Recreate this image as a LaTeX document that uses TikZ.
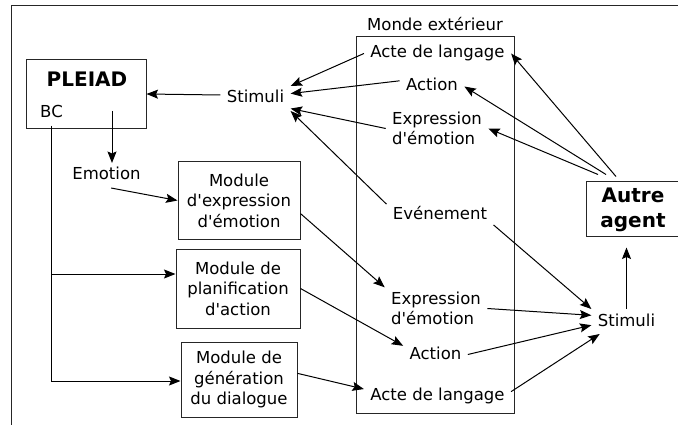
\documentclass[tikz,border=0pt]{standalone}
\usepackage{fontspec}
\setmainfont{DejaVu Sans}[Ligatures=TeXOff]
\usetikzlibrary{arrows.meta, positioning}
\newcommand{\bigbf}{\bfseries\fontsize{20}{25}\selectfont}

\begin{document}
\begin{tikzpicture}[x=1pt, y=-1pt, line width=1pt,
	font=\fontsize{16.5}{20.5}\selectfont,
	lbl/.style={inner xsep=6pt, inner ysep=4pt, text height=12.5pt, text depth=3.5pt},
	lbltwo/.style={inner xsep=6pt, inner ysep=4pt, align=left},
	modbox/.style={draw=black!85, align=center, inner sep=2pt},
	arr/.style={-{Stealth[length=11.5pt, width=9pt, inset=2pt]}}]
	\useasboundingbox (0,0) rectangle (678,425);
	\draw[black!85] (11,6) rectangle (700,450);

	\node[modbox, minimum width=120pt, minimum height=69pt] (pleiad) at (86,94.5) {};
	\node[anchor=base, font=\bigbf] (pleiadT) at (87,87) {PLEIAD};
	\node[lbl] (bc) at (51.5,113.5) {BC};
	\node[lbl] (stimA) at (255.5,98.5) {Stimuli};
	\node[lbl] (emotion) at (106.5,175.5) {Emotion};

	\node[modbox, minimum width=122pt, minimum height=77pt] (modExpr) at (239,200.5) {Module\\d'expression\\d'émotion};
	\node[modbox, minimum width=124pt, minimum height=79pt] (modPlan) at (238,288.5) {Module de\\planification\\d'action};
	\node[modbox, minimum width=116pt, minimum height=75pt] (modGen) at (239,379.5) {Module de\\génération\\du dialogue};

	\node[draw=black!85, minimum width=158pt, minimum height=376pt] (monde) at (435,225) {};
	\node[lbl, above=-2pt of monde] (mondeT) {Monde extérieur};
	\node[lbl] (acteA) at (437.5,53.5) {Acte de langage};
	\node[lbl] (actA) at (432,86.5) {Action};
	\node[lbltwo] (exprA) at (437,128.5) {Expression\\d'émotion};
	\node[lbl] (evt) at (440,215.5) {Evénement};
	\node[lbltwo] (exprB) at (436,308.5) {Expression\\d'émotion};
	\node[lbl] (actB) at (435.5,354.5) {Action};
	\node[lbl] (acteB) at (437.5,395.5) {Acte de langage};

	\node[lbl] (stimB) at (626.5,321.5) {Stimuli};
	\node[modbox, font=\bigbf, minimum width=94pt, minimum height=55pt, text depth=3pt] (autre) at (633,209.5) {Autre\\agent};

	\draw[arr] ([yshift=3.5pt]stimA.west) -- ([yshift=0.5pt]pleiad.east);
	\coordinate (emoTop) at ([shift={(26,16.5)}]pleiad.center);
	\draw[arr] (emoTop) -- (emoTop |- emotion.north);
	\draw[arr] (emotion.-70) -- (modExpr.west);
	\draw[arr] (bc.south) |- ([yshift=14.5pt]modPlan.west);
	\draw[arr] (bc.south) |- ([yshift=-1.5pt]modGen.west);

	\draw[arr] (acteA.west) -- (stimA.north east);
	\draw[arr] (actA.170) -- (stimA.8);
	\draw[arr] (exprA.west) -- (stimA.-16);
	\draw[arr] (evt.168) -- (stimA.south east);

	\draw[arr] ([shift={(-17,-5)}]autre.north) -- (acteA.east);
	\draw[arr] ([shift={(-27,-7)}]autre.north) -- (actA.east);
	\draw[arr] ([shift={(-35,-7)}]autre.north) -- (exprA.east);

	\draw[arr] (modExpr.-12) -- (exprB.north west);
	\draw[arr] (modPlan.east) -- (actB.165);
	\draw[arr] (modGen.6) -- (acteB.175);

	\draw[arr] (evt.-10) -- (stimB.north west);
	\draw[arr] (exprB.east) -- (stimB.170);
	\draw[arr] (actB.east) -- (stimB.186);
	\draw[arr] (acteB.3) -- (stimB.205);
	\draw[arr, shorten >=10pt] (stimB.north) -- (stimB.north |- autre.south);
\end{tikzpicture}
\end{document}
